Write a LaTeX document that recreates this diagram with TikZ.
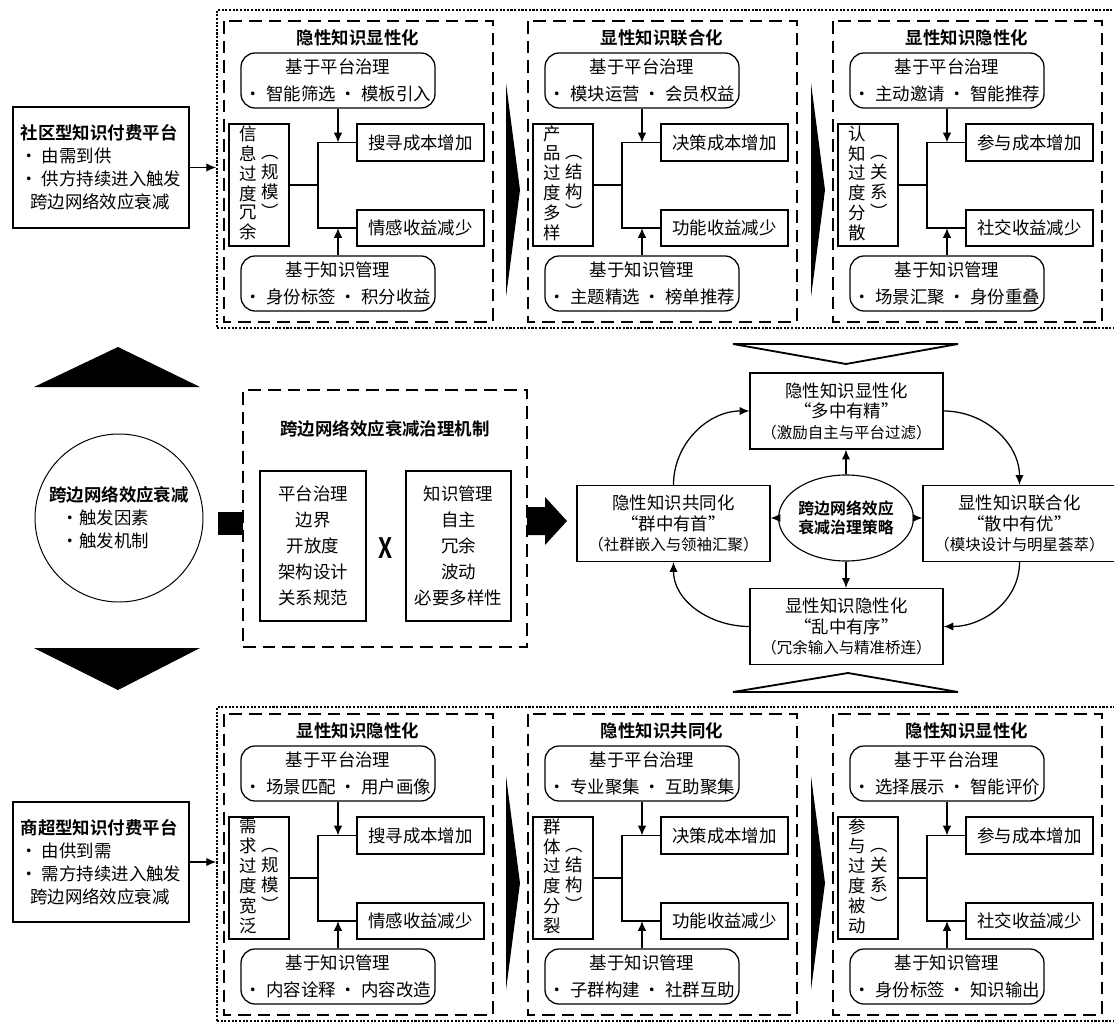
\documentclass[tikz,border=0pt]{standalone}
\usepackage{fontspec}
\setmainfont{Noto Sans CJK SC}[BoldFont={Noto Sans CJK SC Bold}]
\usetikzlibrary{arrows.meta}
\usetikzlibrary{shapes.geometric}

\newcommand{\px}[1]{#1*0.025cm}
\newcommand{\vcol}[1]{\begin{tabular}[c]{@{}c@{}}#1\end{tabular}}
\newcommand{\subnote}[1]{{\fontsize{11}{14.6}\selectfont #1}}

\tikzset{
  box/.style={draw, line width=0.9pt, inner sep=0pt, align=center},
  roundbox/.style={box, rounded corners=10pt, font=\fontsize{12.4}{19.2}\selectfont},
  stratbox/.style={box, minimum width=\px{193}, minimum height=\px{76}, font=\fontsize{12.4}{14.6}\selectfont},
  heading/.style={font=\bfseries\fontsize{12.4}{16.4}\selectfont},
  panel/.style={draw, line width=1.4pt, dash pattern=on 9pt off 5pt},
  zone/.style={draw, line width=1.2pt, dash pattern=on 1.5pt off 1.1pt},
  link/.style={line width=0.9pt},
  arr/.style={link, -{Latex[length=7pt,width=6pt]}},
}

% one panel: name, top-left corner, title, platform items,
% vertical text, bracket word, cost, benefit, knowledge items
\newcommand{\kpanel}[9]{%
  \begin{scope}[shift={#2}]
    \draw[panel] (0,0) rectangle (269,301);
    \node[heading] (#1t) at (134,17) {#3};
    \node[roundbox, minimum width=\px{194}, minimum height=\px{55}] (#1p) at (114,59.5) {基于平台治理\\#4};
    \node[box, minimum width=\px{60}, minimum height=\px{122}, font=\fontsize{12.4}{12.4}\selectfont] (#1v) at (35,164)
      {\vcol{#5}\hspace{3pt}\vcol{︵\\#6\\︶}};
    \node[box, minimum width=\px{127}, minimum height=\px{37}] (#1c) at (196.5,121.5) {#7};
    \node[box, minimum width=\px{127}, minimum height=\px{36}] (#1b) at (196.5,207) {#8};
    \node[roundbox, minimum width=\px{194}, minimum height=\px{55}] (#1k) at (114,262.5) {基于知识管理\\#9};
    \coordinate (#1j) at (94,164);
    \draw[link] (#1v.east) -- (#1j);
    \draw[link] (#1c.west) -| (#1j) |- (#1b.west);
    \draw[arr] (#1p.south) -- (#1p.south |- #1c.west);
    \draw[arr] (#1k.north) -- (#1k.north |- #1b.west);
  \end{scope}}

\begin{document}
\begin{tikzpicture}[x=0.025cm, y=-0.025cm, font=\fontsize{12.4}{16.4}\selectfont]
  \useasboundingbox (0,0) rectangle (1114,1025);
  % upper and lower zones
  \node[zone, minimum width=\px{901}, minimum height=\px{318}] (upzone) at (667.5,169) {};
  \node[zone, minimum width=\px{901}, minimum height=\px{314}] (lowzone) at (667.5,864) {};
  % platforms
  \node[box, align=left, minimum width=\px{176}, minimum height=\px{121}] (commu) at (101,167.5)
    {\textbf{社区型知识付费平台}\\• 由需到供\\• 供方持续进入触发\\\hspace*{0.55em}跨边网络效应衰减};
  \node[box, align=left, minimum width=\px{176}, minimum height=\px{120}] (market) at (101,862)
    {\textbf{商超型知识付费平台}\\• 由供到需\\• 需方持续进入触发\\\hspace*{0.55em}跨边网络效应衰减};
  \draw[arr] (commu.east) -- (commu.east -| upzone.west);
  \draw[arr] (market.east) -- (market.east -| lowzone.west);
  % upper panels
  \kpanel{ua}{(224,21)}{隐性知识显性化}{• 智能筛选 • 模板引入}{信\\息\\过\\度\\冗\\余}{规\\模}{搜寻成本增加}{情感收益减少}{• 身份标签 • 积分收益}
  \kpanel{ub}{(528,21)}{显性知识联合化}{• 模块运营 • 会员权益}{产\\品\\过\\度\\多\\样}{结\\构}{决策成本增加}{功能收益减少}{• 主题精选 • 榜单推荐}
  \kpanel{uc}{(833,21)}{显性知识隐性化}{• 主动邀请 • 智能推荐}{认\\知\\过\\度\\分\\散}{关\\系}{参与成本增加}{社交收益减少}{• 场景汇聚 • 身份重叠}
  % lower panels
  \kpanel{la}{(224,714)}{显性知识隐性化}{• 场景匹配 • 用户画像}{需\\求\\过\\度\\宽\\泛}{规\\模}{搜寻成本增加}{情感收益减少}{• 内容诠释 • 内容改造}
  \kpanel{lb}{(528,714)}{隐性知识共同化}{• 专业聚集 • 互助聚集}{群\\体\\过\\度\\分\\裂}{结\\构}{决策成本增加}{功能收益减少}{• 子群构建 • 社群互助}
  \kpanel{lc}{(833,714)}{隐性知识显性化}{• 选择展示 • 智能评价}{参\\与\\过\\度\\被\\动}{关\\系}{参与成本增加}{社交收益减少}{• 身份标签 • 知识输出}
  % wedges between panels
  \foreach \wx in {506,811}
    \foreach \wy in {83,776}
      \fill (\wx,\wy) -- ++(14,107) -- ++(-14,107) -- cycle;
  % middle: decay
  \fill (34,387) -- (118,347) -- (200,387) -- cycle;
  \fill (34,648) -- (118,690) -- (200,648) -- cycle;
  \node[circle, draw, line width=0.7pt, minimum size=\px{168}, inner sep=0pt, align=left] (decay) at (119,518)
    {\textbf{跨边网络效应衰减}\\\hspace*{9pt}•触发因素\\\hspace*{9pt}•触发机制};
  \fill (218,512) rectangle (243,535);
  % governance mechanism
  \node[panel, minimum width=\px{284}, minimum height=\px{257}] (mech) at (385,518.5) {};
  \node[heading] (mecht) at (385,429) {跨边网络效应衰减治理机制};
  \node[box, minimum width=\px{106}, minimum height=\px{150}, font=\fontsize{12.4}{18.5}\selectfont] (gov) at (313,546)
    {平台治理\\边界\\开放度\\架构设计\\关系规范};
  \node[box, minimum width=\px{105}, minimum height=\px{150}, font=\fontsize{12.4}{18.5}\selectfont] (km) at (458.5,546)
    {知识管理\\自主\\冗余\\波动\\必要多样性};
  \node[font=\bfseries\fontsize{20}{20}\selectfont] (cross) at (386,548) {\scalebox{0.8}[1]{X}};
  \fill (527,507) -- (545,507) -- (545,497) -- (567,521) -- (545,545) -- (545,535) -- (527,535) -- cycle;
  % strategies
  \draw[line width=1.3pt, fill=white] (733,344) -- (958,344) -- (846,364) -- cycle;
  \draw[line width=1.3pt, fill=white] (733,692) -- (958,692) -- (848,673) -- cycle;
  \node[stratbox] (s1) at (846.5,411) {隐性知识显性化\\“多中有精”\\\subnote{（激励自主与平台过滤）}};
  \node[stratbox] (s2) at (673.5,523.5) {隐性知识共同化\\“群中有首”\\\subnote{（社群嵌入与领袖汇聚）}};
  \node[stratbox] (s3) at (1019.5,523.5) {显性知识联合化\\“散中有优”\\\subnote{（模块设计与明星荟萃）}};
  \node[stratbox] (s4) at (846.5,626.5) {显性知识隐性化\\“乱中有序”\\\subnote{（冗余输入与精准桥连）}};
  \node[ellipse, draw, line width=0.8pt, minimum width=\px{105}, minimum height=\px{86}, inner sep=0pt,
        font=\bfseries\fontsize{11.3}{13.5}\selectfont, align=center] (core) at (846,518) {跨边网络效应\\衰减治理策略};
  \draw[arr] (core.north) -- (core.north |- s1.south);
  \draw[arr] (core.south) -- (core.south |- s4.north);
  \draw[arr] (core.west) -- (core.west -| s2.east);
  \draw[arr] (core.east) -- (core.east -| s3.west);
  \draw[arr] (s2.north) to[out=90, in=180] (s1.west);
  \draw[arr] (s1.east) to[out=0, in=90] (s3.north);
  \draw[arr] (s3.south) to[out=-90, in=0] (s4.east);
  \draw[arr] (s4.west) to[out=180, in=-90] (s2.south);
\end{tikzpicture}
\end{document}
